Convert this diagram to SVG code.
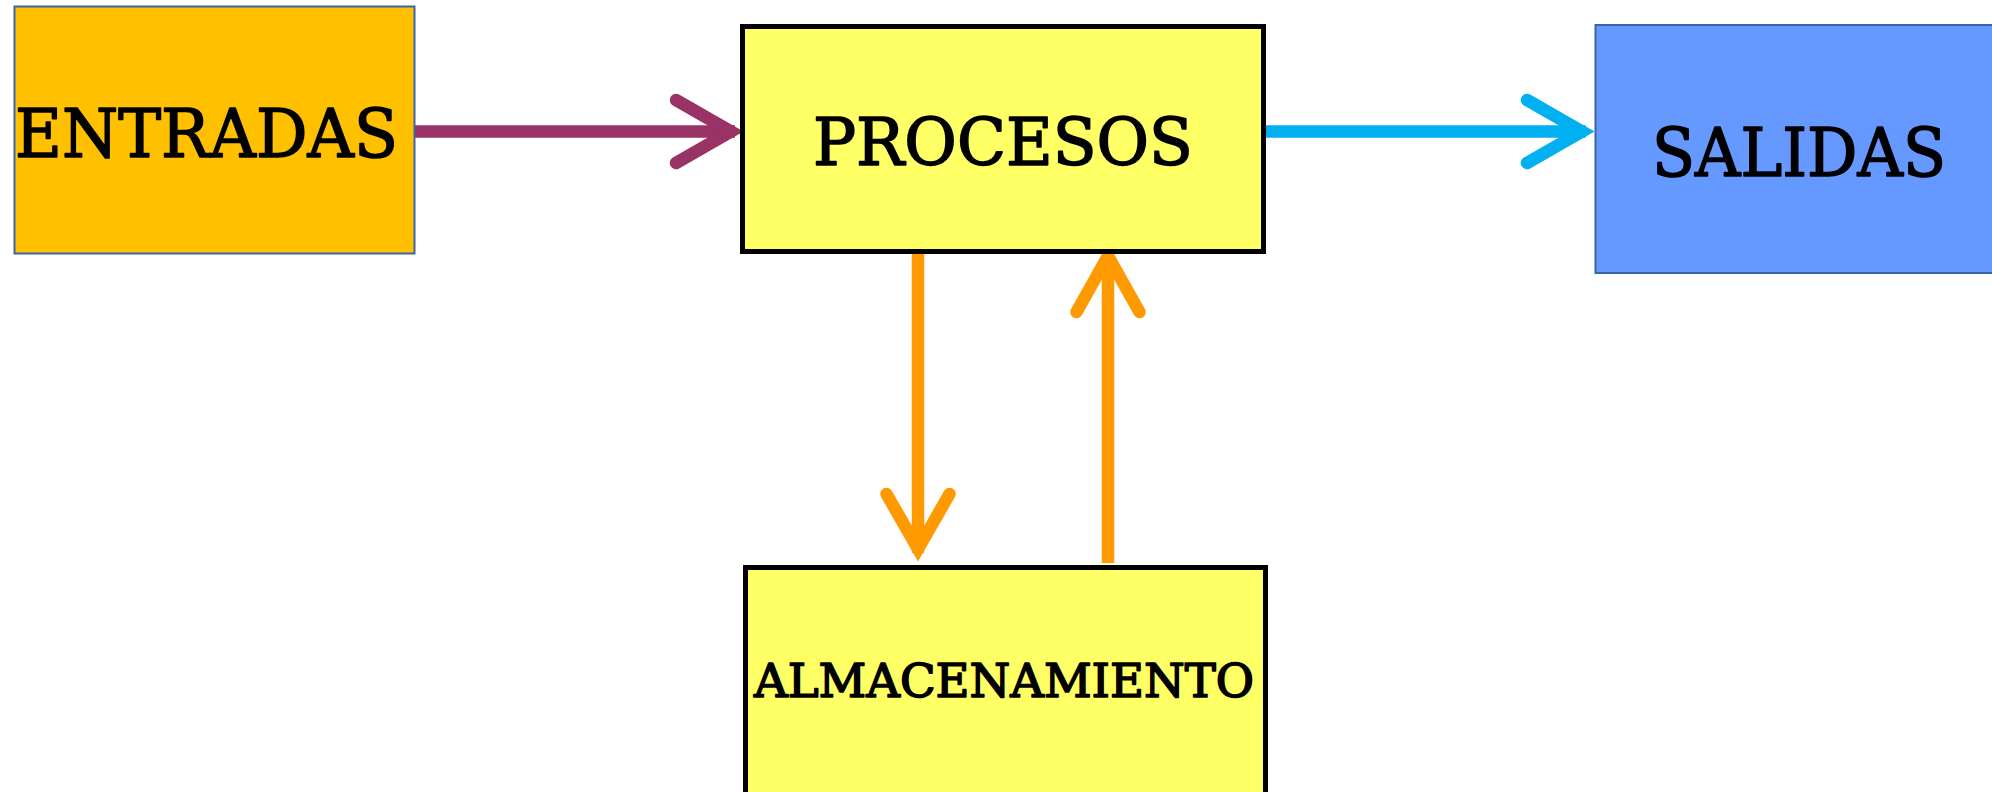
<svg xmlns="http://www.w3.org/2000/svg" width="1992" height="792" viewBox="0 0 1992 792">
<style>
.lbl{font-family:"DejaVu Serif","Liberation Serif",serif;fill:#000;stroke:#000;stroke-width:1.6;stroke-linejoin:round;}
.shaft{fill:none;stroke-width:12.5;stroke-linecap:butt;}
.head{fill:none;stroke-width:12.5;stroke-linecap:round;stroke-linejoin:miter;stroke-miterlimit:10;}
.blk{stroke:#000;stroke-width:5;}
.thin{stroke:#3B64A8;stroke-width:2;}
</style>
<rect width="1992" height="792" fill="#ffffff"/>
<g id="connectors">
  <g id="c-entradas-procesos" stroke="#993366">
    <line class="shaft" x1="415" y1="131.5" x2="735" y2="131.5"/>
    <polyline class="head" points="676,100 731,131.5 676,163"/>
  </g>
  <g id="c-procesos-salidas" stroke="#00B0F0">
    <line class="shaft" x1="1266" y1="131.5" x2="1586" y2="131.5"/>
    <polyline class="head" points="1527,100 1582,131.5 1527,163"/>
  </g>
  <g id="c-procesos-almacenamiento" stroke="#FF9900">
    <line class="shaft" x1="918" y1="252" x2="918" y2="553"/>
    <polyline class="head" points="886.5,494 918,549 949.5,494"/>
  </g>
  <g id="c-almacenamiento-procesos" stroke="#FF9900">
    <line class="shaft" x1="1108" y1="563" x2="1108" y2="252"/>
    <polyline class="head" points="1076.5,312 1108,256 1139.5,312"/>
  </g>
</g>
<g id="entradas">
  <rect class="thin" x="14.5" y="6.5" width="400" height="247" fill="#FFC000"/>
  <text class="lbl" x="15" y="157" font-size="68" textLength="383" lengthAdjust="spacingAndGlyphs">ENTRADAS</text>
</g>
<g id="procesos">
  <rect class="blk" x="742.5" y="26.5" width="521" height="225" fill="#FFFF66"/>
  <text class="lbl" x="813" y="165" font-size="66" textLength="380" lengthAdjust="spacingAndGlyphs">PROCESOS</text>
</g>
<g id="salidas">
  <rect class="thin" x="1595.5" y="25" width="420" height="248" fill="#6699FF"/>
  <text class="lbl" x="1652" y="176" font-size="68" textLength="294" lengthAdjust="spacingAndGlyphs">SALIDAS</text>
</g>
<g id="almacenamiento">
  <rect class="blk" x="745.5" y="567.5" width="520" height="240" fill="#FFFF66"/>
  <text class="lbl" x="754" y="697" font-size="46" textLength="500" lengthAdjust="spacingAndGlyphs">ALMACENAMIENTO</text>
</g>
</svg>
